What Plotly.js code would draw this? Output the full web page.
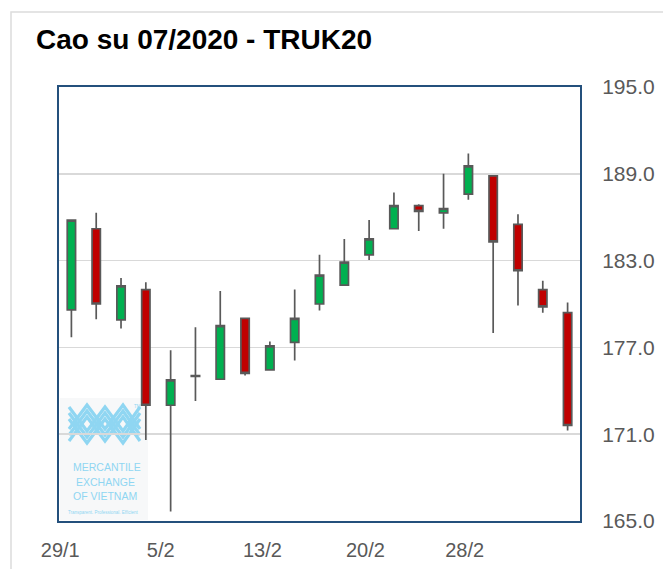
<!DOCTYPE html>
<html>
<head>
<meta charset="utf-8">
<script src="https://cdn.plot.ly/plotly-3.0.1.min.js"></script>
<style>
  html, body { margin: 0; padding: 0; background: #ffffff; }
  #chart { width: 663px; height: 569px; }
</style>
</head>
<body>
<div id="chart"></div>
<script>
// ---- data ----
const sessionIndex = [0,1,2,3,4,5,6,7,8,9,10,11,12,13,14,15,16,17,18,19,20];
const openPrices  = [179.6,185.2,178.9,181.0,173.0,175.0,174.8,179.0,175.45,177.35,180.0,181.3,183.4,185.2,186.8,186.3,187.6,188.85,185.5,181.0,179.4];
const highPrices  = [185.8,186.3,181.8,181.5,176.8,178.4,180.9,179.05,177.4,181.0,183.4,184.5,185.8,187.7,186.9,189.0,190.4,188.9,186.2,181.6,180.1];
const lowPrices   = [177.7,178.95,178.3,170.6,165.65,173.3,174.75,175.05,175.4,176.1,179.55,181.25,183.05,185.15,185.05,185.2,187.2,178.0,179.9,179.4,171.25];
const closePrices = [185.8,180.0,181.25,173.0,174.75,175.05,178.5,175.2,177.1,179.0,182.0,182.9,184.5,186.8,186.4,186.6,189.55,184.3,182.3,179.8,171.6];
const tickLabels    = ['29/1','5/2','13/2','20/2','28/2'];
const tickPositions = [-0.45, 3.6, 7.7, 11.85, 15.85];
const chartTitle = 'Cao su 07/2020 - TRUK20';

// ---- layout helpers (pixel -> paper for decorations) ----
const W = 663, H = 569;
const M = {l: 59, r: 83, t: 87, b: 48};
const PW = W - M.l - M.r, PH = H - M.t - M.b;
const px = x => (x - M.l) / PW;
const py = y => (H - M.b - y) / PH;

const FONT = '"Liberation Sans", Arial, sans-serif';
const logoBlue = '#8fd6f2';

const shapes = [];
// outer light frame
shapes.push({type:'rect', xref:'paper', yref:'paper', x0:px(11), x1:px(700), y0:py(12), y1:py(620),
  line:{color:'#dcdcdc', width:1.5}, fillcolor:'rgba(0,0,0,0)', layer:'below'});
// logo background
shapes.push({type:'rect', xref:'paper', yref:'paper', x0:px(60), x1:px(148), y0:py(398), y1:py(520),
  line:{width:0}, fillcolor:'#f7f8f9', layer:'below'});
// logo lattice (decoration)
[0, 6, 12].forEach(o => {
  const mPts = [[69,429+o],[87,405+o],[105,429+o],[123,405+o],[140,429+o]];
  const wPts = [[69,419-o],[87,443-o],[105,419-o],[123,443-o],[140,419-o]];
  [mPts, wPts].forEach(p => {
    const d = 'M ' + p.map(q => px(q[0]) + ',' + py(q[1])).join(' L ');
    shapes.push({type:'path', xref:'paper', yref:'paper', path:d, line:{color:logoBlue, width:3.2}, layer:'below'});
  });
});

const annotations = [
  {text:'MERCANTILE', x:px(107), y:py(467)},
  {text:'EXCHANGE', x:px(105), y:py(482)},
  {text:'OF VIETNAM', x:px(105), y:py(496)}
].map(a => Object.assign({xref:'paper', yref:'paper', showarrow:false, xanchor:'center', yanchor:'middle',
  font:{family:FONT, size:10.5, color:logoBlue}}, a));
annotations.push({text:'Transparent. Professional. Efficient', xref:'paper', yref:'paper', x:px(103), y:py(512),
  showarrow:false, xanchor:'center', yanchor:'middle', font:{family:FONT, size:4.5, color:logoBlue}});
annotations.push({text:'TM', xref:'paper', yref:'paper', x:px(137), y:py(406),
  showarrow:false, xanchor:'center', yanchor:'middle', font:{family:FONT, size:4.5, color:logoBlue}});
// chart title
annotations.push({text:'<b>' + chartTitle + '</b>', xref:'paper', yref:'paper', x:px(34), y:py(39),
  showarrow:false, xanchor:'left', yanchor:'middle', font:{family:FONT, size:28, color:'#000000'}});

const trace = {
  type: 'candlestick',
  x: sessionIndex,
  open: openPrices, high: highPrices, low: lowPrices, close: closePrices,
  increasing: {line: {color: '#595959', width: 1.7}, fillcolor: '#00b050'},
  decreasing: {line: {color: '#595959', width: 1.7}, fillcolor: '#c00000'},
  whiskerwidth: 0,
  hoverinfo: 'skip'
};

const layout = {
  width: W, height: H,
  margin: M,
  paper_bgcolor: '#ffffff',
  plot_bgcolor: '#ffffff',
  showlegend: false,
  boxgap: 0.52,
  xaxis: {
    type: 'linear',
    range: [-0.5, 20.5],
    tickvals: tickPositions, ticktext: tickLabels,
    ticks: '', showgrid: false, zeroline: false,
    showline: true, mirror: true, linecolor: '#24507c', linewidth: 2,
    tickfont: {family: FONT, size: 20, color: '#595959'},
    ticklabelstandoff: 10,
    rangeslider: {visible: false},
    fixedrange: true
  },
  yaxis: {
    side: 'right',
    range: [165, 195],
    tick0: 165, dtick: 6,
    tickformat: '.1f',
    ticks: '', showgrid: true, gridcolor: '#d9d9d9', gridwidth: 1.6,
    zeroline: false,
    showline: true, mirror: true, linecolor: '#24507c', linewidth: 2,
    tickfont: {family: FONT, size: 21, color: '#595959'},
    ticklabelstandoff: 16,
    fixedrange: true
  },
  shapes: shapes,
  annotations: annotations
};

Plotly.newPlot('chart', [trace], layout, {displayModeBar: false, staticPlot: true});
</script>
</body>
</html>
